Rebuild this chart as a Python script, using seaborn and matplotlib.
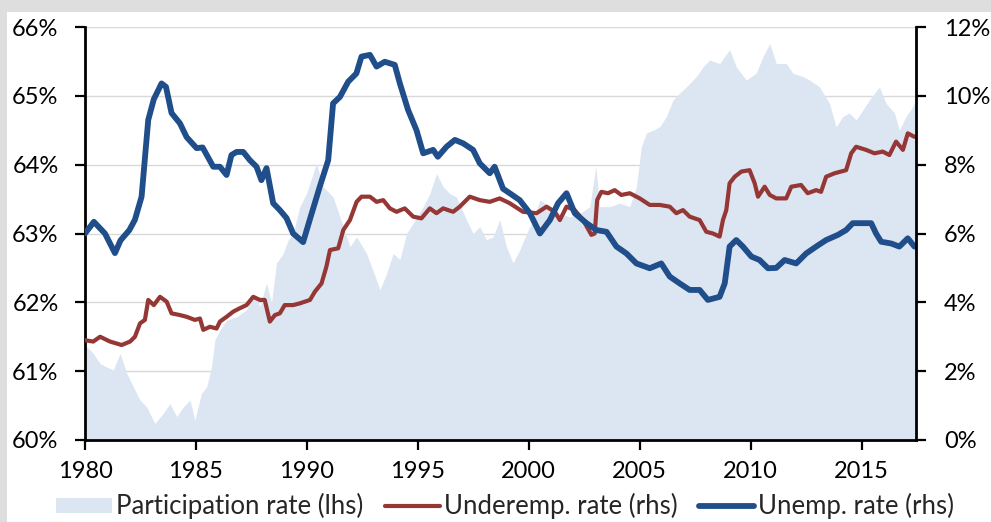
import matplotlib.pyplot as plt
import seaborn as sns
from matplotlib.patches import Patch, Rectangle
from matplotlib.lines import Line2D
from matplotlib.ticker import FuncFormatter, MultipleLocator

# Participation rate (lhs, %)
part_years = [1980.0, 1980.37, 1980.68, 1980.98, 1981.28, 1981.58, 1981.88, 1982.18, 1982.48, 1982.78,
              1983.15, 1983.53, 1983.83, 1984.13, 1984.43, 1984.73, 1984.95, 1985.25, 1985.48, 1985.7,
              1985.85, 1986.08, 1986.38, 1986.83, 1987.28, 1987.58, 1987.88, 1988.18, 1988.4, 1988.63,
              1988.93, 1989.15, 1989.38, 1989.68, 1989.98, 1990.43, 1990.73, 1991.18, 1991.64, 1991.94,
              1992.24, 1992.69, 1993.14, 1993.29, 1993.59, 1993.89, 1994.19, 1994.49, 1994.79, 1995.24,
              1995.54, 1995.84, 1996.14, 1996.44, 1996.74, 1997.19, 1997.49, 1997.79, 1998.09, 1998.39,
              1998.69, 1998.99, 1999.29, 1999.59, 1999.9, 2000.2, 2000.5, 2000.95, 2001.4, 2001.85,
              2002.3, 2002.75, 2003.02, 2003.2, 2003.65, 2004.1, 2004.55, 2004.85, 2005.07, 2005.3,
              2005.6, 2005.9, 2006.2, 2006.5, 2006.8, 2007.1, 2007.55, 2007.85, 2008.15, 2008.6,
              2009.05, 2009.35, 2009.8, 2010.25, 2010.55, 2010.86, 2011.15, 2011.6, 2011.9, 2012.35,
              2012.65, 2013.1, 2013.55, 2013.85, 2014.15, 2014.45, 2014.75, 2015.05, 2015.35, 2015.8,
              2016.1, 2016.48, 2016.7, 2017.0, 2017.3, 2017.45]
part_rate = [61.38, 61.26, 61.11, 61.06, 61.02, 61.26, 60.97, 60.77, 60.58, 60.48,
             60.24, 60.39, 60.53, 60.34, 60.48, 60.58, 60.29, 60.68, 60.77, 61.06,
             61.45, 61.6, 61.74, 61.79, 61.89, 62.13, 61.94, 62.28, 61.99, 62.57,
             62.71, 62.9, 63.0, 63.39, 63.58, 64.02, 63.68, 63.53, 63.1, 62.81,
             62.95, 62.71, 62.32, 62.18, 62.42, 62.71, 62.62, 63.0, 63.15, 63.39,
             63.58, 63.87, 63.68, 63.58, 63.53, 63.2, 63.0, 63.1, 62.91, 62.95,
             63.2, 62.81, 62.57, 62.76, 63.0, 63.2, 63.49, 63.39, 63.29, 63.24,
             63.29, 63.39, 63.97, 63.39, 63.39, 63.44, 63.39, 63.68, 64.26, 64.46,
             64.5, 64.55, 64.7, 64.94, 65.04, 65.13, 65.28, 65.42, 65.52, 65.47,
             65.67, 65.42, 65.23, 65.33, 65.57, 65.76, 65.47, 65.47, 65.33, 65.28,
             65.23, 65.13, 64.89, 64.55, 64.7, 64.75, 64.65, 64.79, 64.94, 65.13,
             64.89, 64.75, 64.5, 64.7, 64.84, 64.95]

# Underemployment rate (rhs, %)
under_years = [1980.0, 1980.37, 1980.68, 1981.13, 1981.65, 1982.03, 1982.25, 1982.48, 1982.7, 1982.85,
               1983.1, 1983.38, 1983.68, 1983.9, 1984.28, 1984.58, 1984.95, 1985.18, 1985.33, 1985.63,
               1985.93, 1986.08, 1986.38, 1986.68, 1986.98, 1987.28, 1987.58, 1987.88, 1988.1, 1988.33,
               1988.56, 1988.78, 1989.0, 1989.38, 1989.68, 1990.14, 1990.36, 1990.66, 1990.88, 1991.04,
               1991.41, 1991.64, 1991.94, 1992.24, 1992.46, 1992.84, 1993.14, 1993.44, 1993.74, 1994.04,
               1994.41, 1994.79, 1995.16, 1995.54, 1995.84, 1996.14, 1996.59, 1996.89, 1997.34, 1997.79,
               1998.24, 1998.69, 1999.14, 1999.74, 2000.35, 2000.8, 2001.17, 2001.4, 2001.7, 2002.07,
               2002.45, 2002.82, 2002.97, 2003.08, 2003.27, 2003.57, 2003.87, 2004.17, 2004.55, 2005.0,
               2005.45, 2005.9, 2006.35, 2006.65, 2006.95, 2007.25, 2007.7, 2008.0, 2008.3, 2008.6,
               2008.75, 2008.9, 2009.05, 2009.28, 2009.58, 2009.95, 2010.18, 2010.33, 2010.63, 2010.86,
               2011.15, 2011.6, 2011.83, 2012.27, 2012.57, 2012.95, 2013.17, 2013.4, 2013.78, 2014.3,
               2014.53, 2014.75, 2015.2, 2015.58, 2015.95, 2016.25, 2016.55, 2016.86, 2017.08, 2017.38]
under_rate = [2.9, 2.86, 3.0, 2.86, 2.76, 2.86, 3.0, 3.39, 3.49, 4.07,
              3.92, 4.16, 4.02, 3.68, 3.63, 3.58, 3.49, 3.53, 3.2, 3.29,
              3.24, 3.44, 3.58, 3.73, 3.83, 3.92, 4.16, 4.07, 4.07, 3.44,
              3.63, 3.68, 3.92, 3.92, 3.97, 4.07, 4.31, 4.55, 5.04, 5.52,
              5.57, 6.1, 6.39, 6.92, 7.07, 7.07, 6.92, 6.97, 6.73, 6.63,
              6.73, 6.49, 6.44, 6.73, 6.59, 6.73, 6.63, 6.78, 7.07, 6.97,
              6.92, 7.02, 6.88, 6.63, 6.59, 6.78, 6.63, 6.39, 6.78, 6.68,
              6.39, 5.96, 6.0, 6.97, 7.21, 7.17, 7.26, 7.12, 7.17, 7.02,
              6.83, 6.83, 6.78, 6.59, 6.68, 6.49, 6.39, 6.05, 6.0, 5.91,
              6.39, 6.68, 7.46, 7.65, 7.8, 7.84, 7.46, 7.07, 7.36, 7.12,
              7.02, 7.02, 7.36, 7.41, 7.17, 7.26, 7.21, 7.65, 7.75, 7.84,
              8.33, 8.52, 8.43, 8.33, 8.38, 8.28, 8.67, 8.43, 8.91, 8.81]

# Unemployment rate (rhs, %)
unemp_years = [1980.0, 1980.4, 1980.9, 1981.35, 1981.6, 1982.0, 1982.25, 1982.55, 1982.85, 1983.1,
               1983.45, 1983.65, 1983.9, 1984.28, 1984.58, 1985.03, 1985.3, 1985.78, 1986.08, 1986.38,
               1986.6, 1986.83, 1987.13, 1987.43, 1987.73, 1987.95, 1988.18, 1988.48, 1988.78, 1989.08,
               1989.38, 1989.83, 1990.13, 1990.58, 1990.96, 1991.18, 1991.49, 1991.86, 1992.23, 1992.46,
               1992.84, 1993.14, 1993.51, 1993.96, 1994.19, 1994.56, 1994.94, 1995.24, 1995.69, 1995.9,
               1996.29, 1996.67, 1997.04, 1997.49, 1997.79, 1998.24, 1998.46, 1998.84, 1999.14, 1999.59,
               2000.05, 2000.5, 2000.95, 2001.32, 2001.7, 2002.07, 2002.6, 2003.05, 2003.5, 2003.95,
               2004.4, 2004.85, 2005.45, 2005.97, 2006.35, 2006.8, 2007.25, 2007.7, 2008.07, 2008.6,
               2008.83, 2009.05, 2009.35, 2009.65, 2010.03, 2010.4, 2010.78, 2011.15, 2011.53, 2012.05,
               2012.5, 2012.95, 2013.4, 2013.93, 2014.3, 2014.6, 2014.98, 2015.43, 2015.65, 2015.88,
               2016.33, 2016.7, 2017.08, 2017.38]
unemp_rate = [6.0, 6.34, 6.0, 5.43, 5.8, 6.1, 6.4, 7.07, 9.3, 9.9,
              10.36, 10.26, 9.5, 9.2, 8.8, 8.48, 8.5, 7.94, 7.94, 7.7,
              8.28, 8.37, 8.37, 8.13, 7.94, 7.55, 7.9, 6.88, 6.68, 6.45,
              6.0, 5.75, 6.4, 7.36, 8.13, 9.78, 9.97, 10.41, 10.65, 11.14,
              11.19, 10.85, 10.99, 10.9, 10.36, 9.59, 9.0, 8.33, 8.43, 8.23,
              8.52, 8.72, 8.62, 8.43, 8.04, 7.75, 7.94, 7.3, 7.17, 6.97,
              6.59, 6.0, 6.39, 6.88, 7.17, 6.59, 6.3, 6.1, 6.05, 5.62,
              5.42, 5.13, 4.99, 5.13, 4.75, 4.55, 4.36, 4.36, 4.07, 4.16,
              4.55, 5.62, 5.81, 5.62, 5.33, 5.23, 4.99, 5.0, 5.23, 5.13,
              5.42, 5.62, 5.81, 5.96, 6.1, 6.3, 6.3, 6.3, 6.0, 5.76,
              5.71, 5.62, 5.86, 5.62]

legend_labels = ['Participation rate (lhs)', 'Underemp. rate (rhs)', 'Unemp. rate (rhs)']

AREA = '#dce6f2'
RED = '#953735'
BLUE = '#1f4e8a'
FS = 17
LEG_FS = 18.5
LW_RED = 3.0
LW_BLUE = 4.2

sns.set_style('ticks')
plt.rcParams['font.family'] = ['Lato', 'DejaVu Sans']

W, H = 991, 522
fig = plt.figure(figsize=(W / 100, H / 100), dpi=100, facecolor='#dedede')
# white panel inside the grey frame, kept behind the axes
fig.patches.append(Rectangle((7 / W, 0), 1, (H - 12) / H, transform=fig.transFigure,
                             facecolor='white', edgecolor='none', zorder=-10))

ax1 = fig.add_axes([85 / W, 82 / H, 831 / W, 413 / H])
ax1.set_facecolor('white')
ax1.fill_between(part_years, 60, part_rate, color=AREA, lw=0, zorder=1)
ax1.set_ylim(60, 66)
ax1.set_xlim(1980, 2017.45)
ax1.yaxis.set_major_locator(MultipleLocator(1))
ax1.yaxis.set_major_formatter(FuncFormatter(lambda v, p: f'{v:.0f}%'))
ax1.xaxis.set_major_locator(MultipleLocator(5))
ax1.yaxis.grid(True, color='#d9d9d9', lw=1)
ax1.set_axisbelow(True)

ax2 = ax1.twinx()
sns.lineplot(x=under_years, y=under_rate, ax=ax2, color=RED, lw=LW_RED, estimator=None)
sns.lineplot(x=unemp_years, y=unemp_rate, ax=ax2, color=BLUE, lw=LW_BLUE, estimator=None)
ax2.set_ylim(0, 12)
ax2.set_xlim(1980, 2017.45)
ax2.yaxis.set_major_locator(MultipleLocator(2))
ax2.yaxis.set_major_formatter(FuncFormatter(lambda v, p: f'{v:.0f}%'))
ax2.grid(False)

for ax in (ax1, ax2):
    ax.set_xlabel('')
    ax.set_ylabel('')
    for s in ax.spines.values():
        s.set_linewidth(2)
        s.set_color('black')
    ax.spines['top'].set_visible(False)
ax1.spines['right'].set_visible(False)
ax2.spines['left'].set_visible(False)
ax2.spines['bottom'].set_visible(False)

ax1.tick_params(axis='y', direction='out', length=7, width=1.6, pad=12, labelsize=FS, colors='black')
ax1.tick_params(axis='x', direction='out', length=7, width=1.6, pad=8, labelsize=FS, colors='black')
ax2.tick_params(axis='y', direction='out', length=7, width=1.6, pad=13, labelsize=FS, colors='black')

handles = [Patch(facecolor=AREA, edgecolor='none'),
           Line2D([], [], color=RED, lw=LW_RED),
           Line2D([], [], color=BLUE, lw=LW_BLUE)]
fig.legend(handles, legend_labels, loc='center', bbox_to_anchor=(0.51, 0.03), ncol=3,
           frameon=False, fontsize=LEG_FS, handlelength=2.15, handletextpad=0.15,
           handleheight=0.55, columnspacing=0.85)

fig.savefig('out.png', dpi=100, facecolor=fig.get_facecolor())
